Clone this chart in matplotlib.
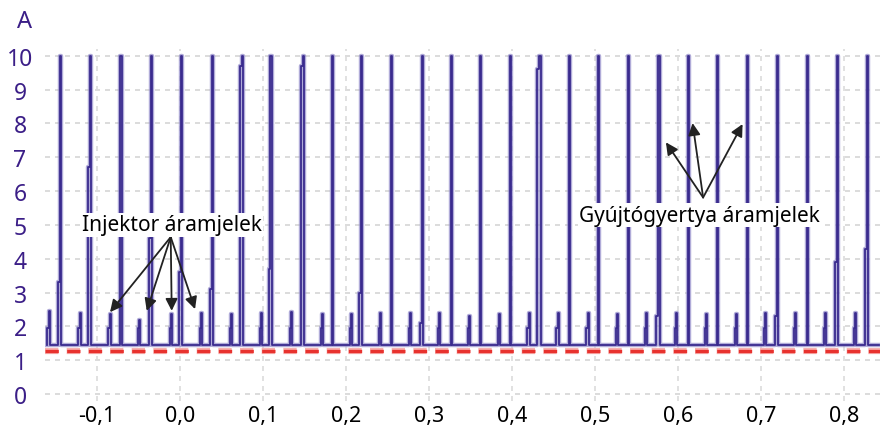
import matplotlib.pyplot as plt
import matplotlib.patheffects as pe

# ignition (spark plug) current pulses: time [s], level of the lower step [A]
ign_t = [-0.1437, -0.1075, -0.0710, -0.0341, 0.0020, 0.0394, 0.0750, 0.1096,
         0.1485, 0.1839, 0.2188, 0.2549, 0.2918, 0.3272, 0.3621, 0.3982,
         0.4335, 0.4688, 0.5042, 0.5398, 0.5768, 0.6120, 0.6474, 0.6831,
         0.7197, 0.7553, 0.7915, 0.8276]
ign_step = [3.3, 6.7, 1.45, 4.6, 3.6, 3.1, 9.7, 3.7,
            9.7, 1.45, 3.0, 1.45, 2.1, 1.45, 1.45, 1.45,
            9.6, 1.45, 1.45, 1.45, 2.3, 1.45, 1.45, 1.45,
            2.3, 1.45, 3.9, 4.3]
ign_peak = 10.0

# injector current pulses: time [s], peak [A]
inj_t = [-0.1574, -0.1204, -0.0843, -0.0482, -0.0100, 0.0261, 0.0623, 0.0984,
         0.1345, 0.1718, 0.2067, 0.2420, 0.2778, 0.3131, 0.3492, 0.3853,
         0.4206, 0.4555, 0.4916, 0.5270, 0.5623, 0.5984, 0.6342, 0.6703,
         0.7056, 0.7417, 0.7779, 0.8140]
inj_peak = [2.46, 2.41, 2.37, 2.2, 2.37, 2.41, 2.37, 2.41,
            2.43, 2.37, 2.37, 2.41, 2.41, 2.41, 2.3, 2.37,
            2.4, 2.41, 2.4, 2.37, 2.4, 2.41, 2.37, 2.37,
            2.41, 2.4, 2.4, 2.4]
inj_mid = 1.95

baseline = 1.45
ref_level = 1.26
t_start, t_end = -0.160, 0.842

xticks = [-0.1, 0.0, 0.1, 0.2, 0.3, 0.4, 0.5, 0.6, 0.7, 0.8]
yticks = list(range(0, 11))

# build the scope trace from the pulse lists
events = []
for t, s in zip(ign_t, ign_step):
    events.append((t, [(t - 0.003, baseline), (t - 0.003, s), (t - 0.0007, s),
                       (t - 0.0007, ign_peak), (t + 0.0007, ign_peak), (t + 0.0007, baseline)]))
for t, p in zip(inj_t, inj_peak):
    events.append((t, [(t - 0.0025, baseline), (t - 0.0025, inj_mid), (t - 0.0006, inj_mid),
                       (t - 0.0006, p), (t + 0.0006, p), (t + 0.0006, baseline)]))
events.sort(key=lambda e: e[0])

tx = [t_start]
ty = [baseline]
for _, pts in events:
    for a, b in pts:
        if t_start <= a <= t_end:
            tx.append(a)
            ty.append(b)
tx.append(t_end)
ty.append(baseline)

purple = '#3b1e87'
trace_dark = '#3a2b8e'
trace_light = '#8f88c8'
font = 'Noto Sans'

fig = plt.figure(figsize=(8.86, 4.27), dpi=100)
ax = fig.add_axes([0.0508, 0.059, 0.9424, 0.824])

ax.set_xlim(-0.1626, 0.843)
ax.set_ylim(-0.2, 10.2)

for y in yticks:
    ax.axhline(y, color='#d6d6d6', lw=1.2, ls=(0, (3, 3)), zorder=0)
for x in xticks:
    ax.axvline(x, color='#dcdcdc', lw=1.2, ls=(0, (3, 3)), zorder=0)

ax.plot(tx, ty, color=trace_light, lw=3.2, alpha=0.7, zorder=2)
ax.plot(tx, ty, color=trace_dark, lw=1.3, zorder=3)

# reference level
ax.axhline(ref_level, color='#e8322e', lw=2.4, ls=(0, (4.0, 2.5)), zorder=5,
           path_effects=[pe.Stroke(linewidth=4.5, foreground='#f7b2b0'), pe.Normal()])

for s in ax.spines.values():
    s.set_visible(False)

ax.set_xticks(xticks)
ax.set_xticklabels([('%.1f' % v).replace('.', ',') for v in xticks])
ax.set_yticks(yticks)
ax.set_yticklabels([str(v) for v in yticks])
ax.tick_params(length=0)
ax.tick_params(axis='x', pad=3, labelcolor='black', labelsize=15.5)
ax.tick_params(axis='y', pad=18, labelcolor=purple, labelsize=16.5)
for lbl in ax.get_yticklabels():
    lbl.set_horizontalalignment('center')
for lbl in ax.get_xticklabels() + ax.get_yticklabels():
    lbl.set_family(font)
    lbl.set_fontweight('medium')

fig.text(25 / 886, 1 - 22 / 427, 'A', color=purple, fontsize=17, family=font,
         fontweight='medium', ha='center', va='center')

arrow = dict(arrowstyle='-|>', color='#222222', lw=1.3, mutation_scale=18,
             shrinkA=0, shrinkB=0)

inj_origin = (-0.0112, 4.64)
inj_tips = [(-0.0843, 2.42), (-0.0401, 2.46), (-0.0100, 2.46), (0.0181, 2.51)]
for tip in inj_tips:
    ax.annotate('', xy=tip, xytext=inj_origin, arrowprops=arrow, zorder=6)
ax.text(-0.0098, 5.0, 'Injektor áramjelek', fontsize=15, family=font,
        fontweight='medium', ha='center', va='center', color='black', zorder=7,
        bbox=dict(facecolor='white', edgecolor='none', pad=1.0))

gy_origin = (0.630, 5.81)
gy_tips = [(0.5852, 7.44), (0.6173, 8.01), (0.6775, 7.98)]
for tip in gy_tips:
    ax.annotate('', xy=tip, xytext=gy_origin, arrowprops=arrow, zorder=6)
ax.text(0.6257, 5.28, 'Gyújtógyertya áramjelek', fontsize=15, family=font,
        fontweight='medium', ha='center', va='center', color='black', zorder=7,
        bbox=dict(facecolor='white', edgecolor='none', pad=1.0))

fig.savefig('out.png', dpi=100)
